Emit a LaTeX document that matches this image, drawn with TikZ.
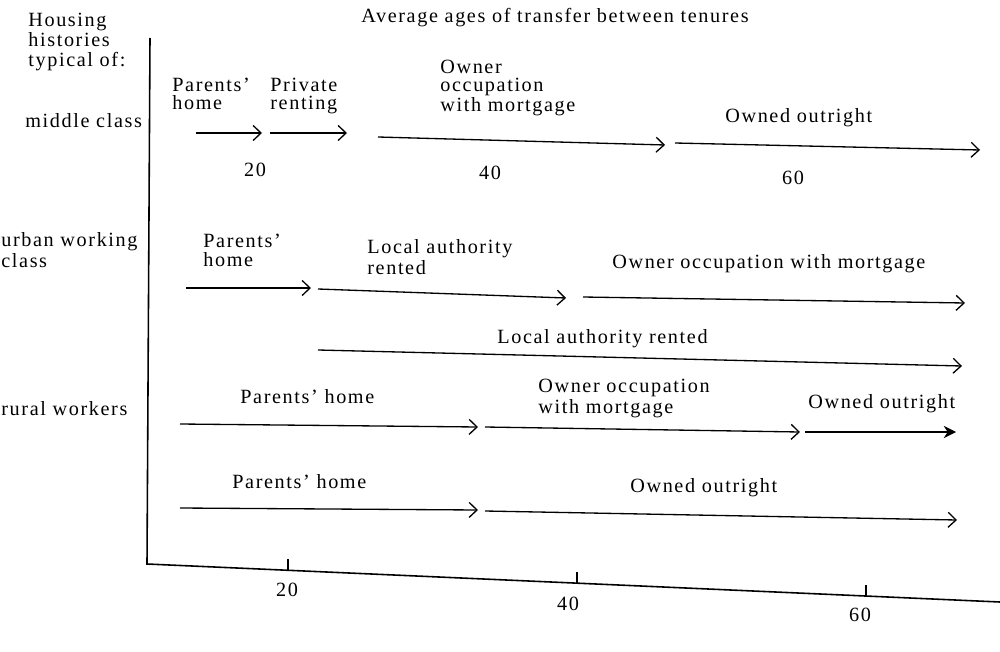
\documentclass[tikz,border=0pt]{standalone}
\usepackage{fontspec}
\setmainfont{Liberation Serif}[LetterSpace=8]
\usetikzlibrary{arrows.meta}
\begin{document}
\begin{tikzpicture}[x=0.02cm,y=-0.02cm,
  lbl/.style={font=\fontsize{11.5}{10.3}\selectfont, inner sep=0pt, align=left, anchor=base west},
  num/.style={font=\fontsize{11.5}{12}\selectfont, inner sep=0pt},
  tl/.style={line width=0.75pt, -{Straight Barb[length=4.5pt,width=8.5pt,line width=0.75pt]}},
  tlb/.style={line width=0.9pt, -{Stealth[length=7pt,width=7pt]}},
  axis/.style={line width=0.9pt},
  tick/.style={line width=0.8pt}]
\fill[white] (0,0) rectangle (1000,652);
\useasboundingbox (0,0) rectangle (1000,652);

% title and left block (base west = baseline of the last line)
\node[num] (title) at (555,18) {Average ages of transfer between tenures};
\node[lbl, font=\fontsize{11.5}{11.4}\selectfont] (hh) at (28,67) {Housing\\histories\\typical of:};
\node[lbl] (mc) at (25,128) {middle class};
\node[lbl] (uw) at (1,267) {urban working\\class};
\node[lbl] (rw) at (1,415) {rural workers};

% axes
\coordinate (ytop) at (150,38);
\coordinate (org) at (147,564);
\coordinate (xend) at (1000,602);
\draw[axis] (ytop) -- (org) -- (xend);
\coordinate (t20) at (288,570);
\coordinate (t40) at (577,583);
\coordinate (t60) at (866,596);
\foreach \t in {t20,t40,t60} \draw[tick] (\t) -- ++(0,-11);
\node[num] (x20) at (287,590) {20};
\node[num] (x40) at (568,604) {40};
\node[num] (x60) at (860,615) {60};

% middle class
\node[lbl] (m1t) at (172,110) {Parents'\\home};
\node[lbl] (m2t) at (270,110) {Private\\renting};
\node[lbl] (m3t) at (440,112) {Owner\\occupation\\with mortgage};
\node[lbl] (m4t) at (725,122) {Owned outright};
\coordinate (m1a) at (196,133); \coordinate (m1b) at (262,133);
\coordinate (m2a) at (270,133); \coordinate (m2b) at (347,133);
\coordinate (m3a) at (378,137); \coordinate (m3b) at (665,145);
\coordinate (m4a) at (675,143); \coordinate (m4b) at (980,150);
\draw[tl] (m1a) -- (m1b);
\draw[tl] (m2a) -- (m2b);
\draw[tl] (m3a) -- (m3b);
\draw[tl] (m4a) -- (m4b);
\node[num] (m20) at (255,170) {20};
\node[num] (m40) at (490,173) {40};
\node[num] (m60) at (793,178) {60};

% urban working class
\node[lbl] (u1t) at (203,266) {Parents'\\home};
\node[lbl] (u2t) at (367,274) {Local authority\\rented};
\node[lbl] (u3t) at (612,268) {Owner occupation with mortgage};
\node[lbl] (u4t) at (497,343) {Local authority rented};
\coordinate (u1a) at (186,288); \coordinate (u1b) at (311,288);
\coordinate (u2a) at (318,289); \coordinate (u2b) at (566,298);
\coordinate (u3a) at (583,297); \coordinate (u3b) at (965,303);
\coordinate (u4a) at (318,350); \coordinate (u4b) at (962,366);
\draw[tl] (u1a) -- (u1b);
\draw[tl] (u2a) -- (u2b);
\draw[tl] (u3a) -- (u3b);
\draw[tl] (u4a) -- (u4b);

% rural workers
\node[lbl] (r1t) at (240,403) {Parents' home};
\node[lbl] (r2t) at (538,413) {Owner occupation\\with mortgage};
\node[lbl] (r3t) at (808,408) {Owned outright};
\coordinate (r1a) at (180,424); \coordinate (r1b) at (478,427);
\coordinate (r2a) at (485,427); \coordinate (r2b) at (800,432);
\coordinate (r3a) at (805,432); \coordinate (r3b) at (956,432);
\draw[tl] (r1a) -- (r1b);
\draw[tl] (r2a) -- (r2b);
\draw[tlb] (r3a) -- (r3b);

% rural workers, second history
\node[lbl] (l1t) at (232,488) {Parents' home};
\node[lbl] (l2t) at (630,492) {Owned outright};
\coordinate (l1a) at (180,508); \coordinate (l1b) at (478,510);
\coordinate (l2a) at (485,511); \coordinate (l2b) at (957,520);
\draw[tl] (l1a) -- (l1b);
\draw[tl] (l2a) -- (l2b);
\end{tikzpicture}
\end{document}
